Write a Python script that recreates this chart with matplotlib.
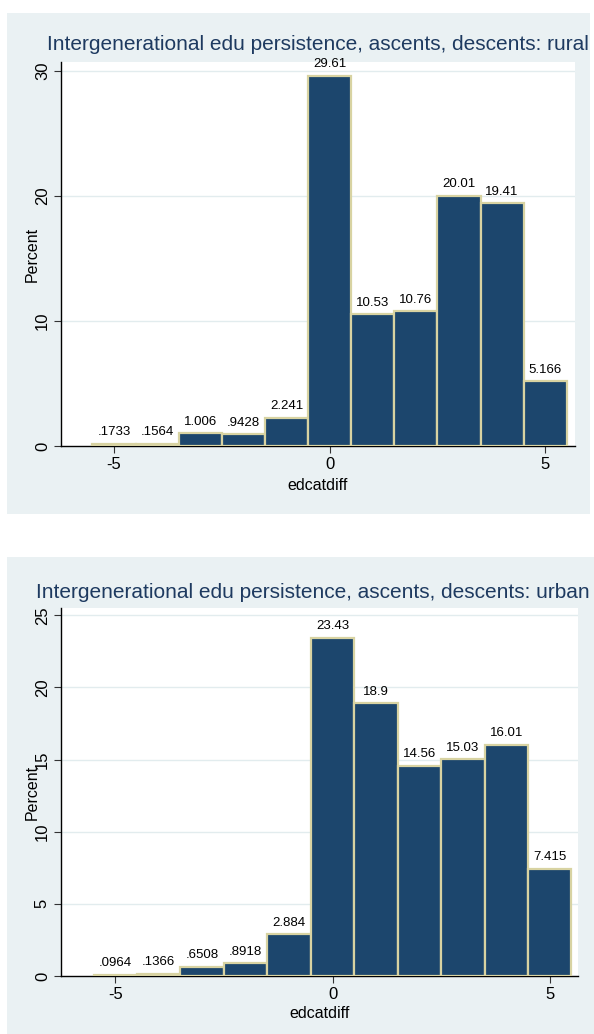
import matplotlib
matplotlib.use("Agg")
import matplotlib.pyplot as plt
import matplotlib.font_manager as fm
from matplotlib.patches import Rectangle

# --- data ---
edcatdiff = [-5, -4, -3, -2, -1, 0, 1, 2, 3, 4, 5]
rural_pct = [0.1733, 0.1564, 1.006, 0.9428, 2.241, 29.61, 10.53, 10.76, 20.01, 19.41, 5.166]
rural_lbl = [".1733", ".1564", "1.006", ".9428", "2.241", "29.61", "10.53", "10.76", "20.01", "19.41", "5.166"]
urban_pct = [0.0964, 0.1366, 0.6508, 0.8918, 2.884, 23.43, 18.9, 14.56, 15.03, 16.01, 7.415]
urban_lbl = [".0964", ".1366", ".6508", ".8918", "2.884", "23.43", "18.9", "14.56", "15.03", "16.01", "7.415"]

titles = ["Intergenerational edu persistence, ascents, descents: rural",
          "Intergenerational edu persistence, ascents, descents: urban"]
yticks = [[0, 10, 20, 30], [0, 5, 10, 15, 20, 25]]

available = {f.name for f in fm.fontManager.ttflist}
font = "Liberation Sans Narrow" if "Liberation Sans Narrow" in available else "Liberation Sans"
plt.rcParams["font.family"] = [font, "DejaVu Sans"]

BG = "#eaf1f3"
FILL = "#1c466d"
EDGE = "#d8d3a2"
NAVY = "#1e3a60"

W, H = 594, 1034
fig = plt.figure(figsize=(W / 100, H / 100), dpi=100)
fig.patch.set_facecolor("white")

# panel backgrounds (px: left, top, right, bottom)
panels = [(7, 13, 590, 514), (7, 557, 594, 1034)]
# axes boxes (px)
boxes = [(61, 62, 575, 446), (61, 608, 578, 976)]
ylims = [30.7, 25.5]
xlims = [(-6.23, 5.69), (-6.25, 5.65)]
title_y = [45, 592]
title_x = [318, 313]
xlabel_y = [485, 1013]

for i, (vals, lbls) in enumerate([(rural_pct, rural_lbl), (urban_pct, urban_lbl)]):
    l, t, r, b = panels[i]
    fig.patches.append(Rectangle((l / W, 1 - b / H), (r - l) / W, (b - t) / H,
                                 transform=fig.transFigure, facecolor=BG,
                                 edgecolor="none", zorder=-5))
    l, t, r, b = boxes[i]
    ax = fig.add_axes([l / W, 1 - b / H, (r - l) / W, (b - t) / H])
    ax.set_zorder(2)
    ax.set_facecolor("white")
    ax.bar(edcatdiff, vals, width=1.0, color=FILL, edgecolor=EDGE, linewidth=1.6, zorder=3)
    for x, v, s in zip(edcatdiff, vals, lbls):
        ax.annotate(s, (x, v), xytext=(0, 4), textcoords="offset points",
                    ha="center", va="bottom", fontsize=9.5, color="black")
    ax.set_xlim(*xlims[i])
    ax.set_ylim(0, ylims[i])
    ax.set_xticks([-5, 0, 5])
    ax.set_xticklabels(["-5", "0", "5"])
    ax.set_yticks(yticks[i])
    for tk in yticks[i][1:]:
        ax.axhline(tk, color="#e2ecee", linewidth=1.0, zorder=1)
    for sp in ["top", "right"]:
        ax.spines[sp].set_visible(False)
    for sp in ["left", "bottom"]:
        ax.spines[sp].set_color("black")
        ax.spines[sp].set_linewidth(1.0)
    ax.tick_params(axis="both", length=5, width=0.8, color="#333333", labelsize=12, pad=3)
    for lab in ax.get_yticklabels():
        lab.set_rotation(90)
        lab.set_va("center")
    ax.set_ylabel("Percent", fontsize=11.5, labelpad=0)
    ax.yaxis.set_label_coords((40 - l) / (r - l), 0.5)
    ax.set_xlabel("edcatdiff", fontsize=11.5, labelpad=0)
    ax.xaxis.set_label_coords(0.5, -(xlabel_y[i] - b) / (b - t))
    ax.xaxis.label.set_va("center")
    fig.text(title_x[i] / W, 1 - title_y[i] / H, titles[i], ha="center", va="center",
             fontsize=15, color=NAVY, zorder=3)

fig.savefig("out.png", dpi=100, facecolor=fig.get_facecolor())
